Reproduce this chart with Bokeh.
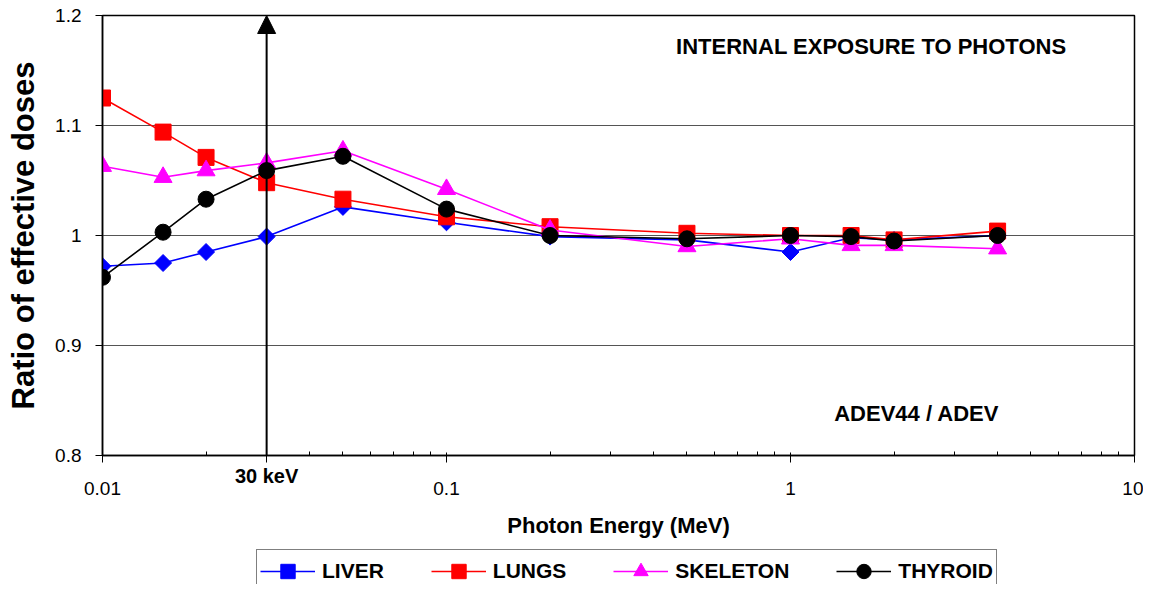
import numpy as np
from bokeh.plotting import figure
from bokeh.layouts import column
from bokeh.models import (FixedTicker, Arrow, NormalHead, Label, Legend, LegendItem,
                          LogAxis, Range1d)
from bokeh.embed import file_html
from bokeh.resources import INLINE

# ---- data ----
energy = [0.01, 0.015, 0.02, 0.03, 0.05, 0.1, 0.2, 0.5, 1, 1.5, 2, 4]
liver = [0.972, 0.975, 0.985, 0.999, 1.026, 1.012, 0.999, 0.996, 0.985, 0.998, 0.996, 1.000]
lungs = [1.125, 1.094, 1.071, 1.048, 1.033, 1.017, 1.008, 1.002, 1.000, 1.000, 0.996, 1.004]
skeleton = [1.063, 1.053, 1.059, 1.066, 1.077, 1.042, 1.005, 0.990, 0.997, 0.991, 0.991, 0.988]
thyroid = [0.962, 1.003, 1.033, 1.059, 1.072, 1.024, 1.000, 0.997, 1.000, 0.999, 0.995, 1.000]

x_ticks = [0.01, 0.1, 1, 10]
x_tick_labels = ["0.01", "0.1", "1", "10"]
y_ticks = [0.8, 0.9, 1.0, 1.1, 1.2]
y_tick_labels = ["0.8", "0.9", "1", "1.1", "1.2"]
marker_energy = 0.03
marker_label = "30 keV"

FONT = "Liberation Sans"
W = 1143

p = figure(width=W, height=547, x_axis_type="log",
           x_range=(0.01, 10), y_range=(0.8, 1.2),
           output_backend="svg", toolbar_location=None,
           min_border_left=102, min_border_right=9, min_border_top=15, min_border_bottom=92)
p.background_fill_color = "white"
p.border_fill_color = "white"
p.outline_line_color = "black"
p.outline_line_width = 1.5

minor = [k * 10.0 ** d for d in (-2, -1, 0) for k in range(2, 10)]

# axis 1 (next to the frame): line, ticks and the "30 keV" marker label
ax1 = p.xaxis[0]
ax1.ticker = FixedTicker(ticks=x_ticks + [marker_energy], minor_ticks=minor)
ax1.major_label_overrides = {**{t: "" for t in x_ticks}, marker_energy: marker_label}
ax1.axis_line_color = "black"
ax1.axis_line_width = 1.5
ax1.major_tick_line_color = "black"
ax1.minor_tick_line_color = "black"
ax1.major_tick_in = 3
ax1.major_tick_out = 7
ax1.minor_tick_in = 4
ax1.minor_tick_out = 0
ax1.major_label_standoff = 2
ax1.major_label_text_font = FONT
ax1.major_label_text_font_size = "20px"
ax1.major_label_text_font_style = "bold"
ax1.major_label_text_color = "black"

# axis 2: the decade labels and the axis title
ax2 = LogAxis(ticker=FixedTicker(ticks=x_ticks, minor_ticks=[]),
              major_label_overrides=dict(zip(x_ticks, x_tick_labels)),
              axis_line_color=None, major_tick_line_color=None, minor_tick_line_color=None,
              major_tick_in=0, major_tick_out=0, major_label_standoff=-8,
              major_label_text_font=FONT, major_label_text_font_size="19px",
              major_label_text_color="black",
              axis_label="Photon Energy (MeV)", axis_label_text_font=FONT,
              axis_label_text_font_size="22px", axis_label_text_font_style="bold",
              axis_label_text_color="black", axis_label_standoff=15)
p.add_layout(ax2, "below")

ay = p.yaxis[0]
ay.ticker = FixedTicker(ticks=y_ticks, minor_ticks=[])
ay.major_label_overrides = dict(zip(y_ticks, y_tick_labels))
ay.axis_line_color = "black"
ay.axis_line_width = 1.5
ay.major_tick_line_color = "black"
ay.major_tick_in = 0
ay.major_tick_out = 7
ay.major_label_standoff = 14
ay.major_label_text_font = FONT
ay.major_label_text_font_size = "19px"
ay.major_label_text_color = "black"
ay.axis_label = "Ratio of effective doses"
ay.axis_label_text_font = FONT
ay.axis_label_text_font_size = "31px"
ay.axis_label_text_font_style = "bold"
ay.axis_label_text_color = "black"
ay.axis_label_standoff = 11

p.xgrid.visible = False
p.ygrid.grid_line_color = "#555555"
p.ygrid.grid_line_width = 1

# 30 keV arrow
p.add_layout(Arrow(end=NormalHead(size=18, fill_color="black", line_color="black"),
                   x_start=marker_energy, y_start=0.8, x_end=marker_energy, y_end=1.2,
                   line_color="black", line_width=2))

# annotations
p.add_layout(Label(x=0.465, y=1.172, text="INTERNAL EXPOSURE TO PHOTONS", text_font=FONT,
                   text_font_size="22px", text_font_style="bold", text_align="left",
                   text_baseline="middle", text_color="black"))
p.add_layout(Label(x=1.34, y=0.838, text="ADEV44 / ADEV", text_font=FONT,
                   text_font_size="22px", text_font_style="bold", text_align="left",
                   text_baseline="middle", text_color="black"))

series = [
    ("LIVER", liver, "#0000FF", "square", 12, np.pi / 4),
    ("LUNGS", lungs, "#FF0000", "square", 16, 0),
    ("SKELETON", skeleton, "#FF00FF", "triangle", 18, 0),
    ("THYROID", thyroid, "black", "circle", 16, 0),
]

for name, vals, color, marker, size, ang in series:
    p.line(energy, vals, line_color=color, line_width=1.6)
    p.scatter(energy, vals, marker=marker, size=size, angle=ang,
              fill_color=color, line_color=color)

# legend strip below the chart
q = figure(width=W, height=37, x_range=Range1d(100, 101), y_range=Range1d(100, 101),
           x_axis_location=None, y_axis_location=None,
           output_backend="svg", toolbar_location=None,
           min_border_left=0, min_border_right=0, min_border_top=0, min_border_bottom=0)
q.outline_line_color = None
q.xgrid.visible = False
q.ygrid.visible = False
q.background_fill_color = "white"
q.border_fill_color = "white"

items = []
for name, vals, color, marker, size, ang in series:
    l = q.line(energy, vals, line_color=color, line_width=1.6)
    s = q.scatter(energy, vals, marker=marker, size=size, angle=ang,
                  fill_color=color, line_color=color)
    items.append(LegendItem(label=name, renderers=[l, s]))

legend = Legend(items=items, orientation="horizontal", location=(154, -9),
                glyph_width=55, glyph_height=36, label_standoff=7, spacing=47,
                padding=3, margin=0,
                label_text_font=FONT, label_text_font_size="21px",
                label_text_font_style="bold", label_text_color="black",
                border_line_color="black", border_line_width=1.3,
                background_fill_color="white", background_fill_alpha=1)
q.add_layout(legend, "center")

open("out.html", "w").write(file_html(column(p, q, spacing=0), INLINE))
